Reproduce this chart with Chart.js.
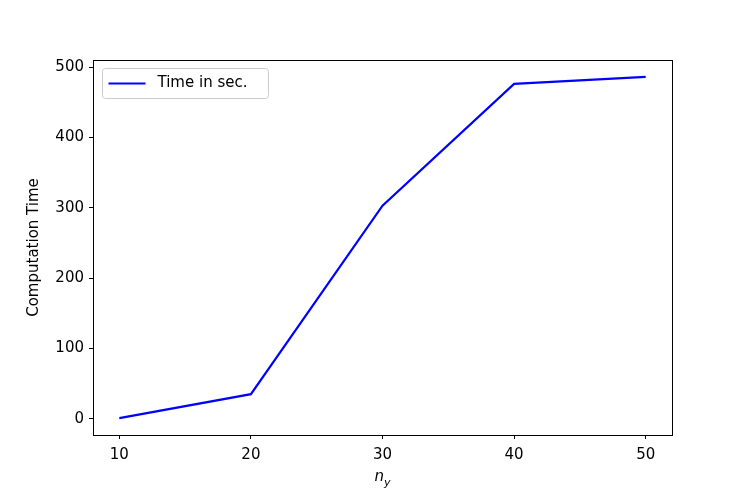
<!DOCTYPE html>
<html lang="en">
<head>
    <meta charset="UTF-8">
    <title>Computation Time</title>
    <script src="https://cdn.jsdelivr.net/npm/chart.js"></script>
    <style>
        html, body { margin: 0; padding: 0; background: #ffffff; }
        #chart { display: block; }
    </style>
</head>
<body>
    <canvas id="chart" width="747" height="498"></canvas>

    <script>
        // data
        const nyValues = [10, 20, 30, 40, 50];
        const timeSec = [1, 35, 303, 476, 486];
        const xTicks = [10, 20, 30, 40, 50];
        const yTicks = [0, 100, 200, 300, 400, 500];
        const seriesLabel = 'Time in sec.';
        const yTitle = 'Computation Time';

        const FONT = 'DejaVu Sans';

        // matplotlib-like frame around the axes
        const framePlugin = {
            id: 'frame',
            afterDraw(chart) {
                const a = chart.chartArea;
                const ctx = chart.ctx;
                ctx.save();
                ctx.strokeStyle = '#000000';
                ctx.lineWidth = 1;
                ctx.strokeRect(Math.round(a.left) + 0.5, Math.round(a.top) + 0.5,
                    Math.round(a.right - a.left), Math.round(a.bottom - a.top));
                ctx.restore();
            }
        };

        // legend box in upper left corner of the axes
        const boxLegend = {
            id: 'boxLegend',
            afterDraw(chart) {
                const a = chart.chartArea;
                const ctx = chart.ctx;
                const ds = chart.data.datasets[0];
                const x = Math.round(a.left) + 9.5, y = Math.round(a.top) + 8.5;
                const w = 166, h = 30, r = 3;
                ctx.save();
                ctx.beginPath();
                ctx.moveTo(x + r, y);
                ctx.arcTo(x + w, y, x + w, y + h, r);
                ctx.arcTo(x + w, y + h, x, y + h, r);
                ctx.arcTo(x, y + h, x, y, r);
                ctx.arcTo(x, y, x + w, y, r);
                ctx.closePath();
                ctx.fillStyle = 'rgba(255,255,255,0.8)';
                ctx.fill();
                ctx.strokeStyle = '#cccccc';
                ctx.lineWidth = 1;
                ctx.stroke();
                ctx.beginPath();
                ctx.moveTo(x + 6, y + 15);
                ctx.lineTo(x + 43, y + 15);
                ctx.strokeStyle = ds.borderColor;
                ctx.lineWidth = ds.borderWidth;
                ctx.stroke();
                ctx.fillStyle = '#000000';
                ctx.font = '15px "' + FONT + '"';
                ctx.textBaseline = 'middle';
                ctx.fillText(ds.label, x + 55, y + 15);
                ctx.restore();
            }
        };

        // x axis title n_y with subscript
        const xTitlePlugin = {
            id: 'xTitle',
            afterDraw(chart) {
                const a = chart.chartArea;
                const ctx = chart.ctx;
                const cx = (a.left + a.right) / 2;
                ctx.save();
                ctx.fillStyle = '#000000';
                ctx.textBaseline = 'alphabetic';
                ctx.font = 'italic 15px "' + FONT + '"';
                const nw = ctx.measureText('n').width;
                ctx.font = 'italic 11px "' + FONT + '"';
                const yw = ctx.measureText('y').width;
                const x0 = cx - (nw + yw) / 2;
                ctx.font = 'italic 15px "' + FONT + '"';
                ctx.fillText('n', x0, 481);
                ctx.font = 'italic 11px "' + FONT + '"';
                ctx.fillText('y', x0 + nw, 486);
                ctx.restore();
            }
        };

        const ctx = document.getElementById('chart').getContext('2d');
        new Chart(ctx, {
            type: 'line',
            data: {
                datasets: [{
                    label: seriesLabel,
                    data: nyValues.map((v, i) => ({ x: v, y: timeSec[i] })),
                    borderColor: '#0000ff',
                    backgroundColor: '#0000ff',
                    borderWidth: 2.2,
                    pointRadius: 0,
                    tension: 0,
                    fill: false
                }]
            },
            options: {
                responsive: false,
                animation: false,
                layout: { padding: { left: 0, right: 75, top: 60, bottom: 0 } },
                plugins: {
                    legend: { display: false },
                    tooltip: { enabled: false }
                },
                scales: {
                    x: {
                        type: 'linear',
                        min: 8,
                        max: 52,
                        afterBuildTicks: s => { s.ticks = xTicks.map(v => ({ value: v })); },
                        afterFit: s => { s.height = 63; },
                        border: { display: false },
                        grid: { drawOnChartArea: false, drawTicks: true, tickLength: 4, color: '#000000' },
                        ticks: { color: '#000000', padding: 7, font: { family: FONT, size: 15 } }
                    },
                    y: {
                        type: 'linear',
                        min: -23,
                        max: 510,
                        afterBuildTicks: s => { s.ticks = yTicks.map(v => ({ value: v })); },
                        afterFit: s => { s.width = 93; },
                        border: { display: false },
                        grid: { drawOnChartArea: false, drawTicks: true, tickLength: 4, color: '#000000' },
                        ticks: { color: '#000000', padding: 5, font: { family: FONT, size: 15 } },
                        title: {
                            display: true,
                            text: yTitle,
                            color: '#000000',
                            padding: { top: 25, bottom: 0 },
                            font: { family: FONT, size: 15 }
                        }
                    }
                }
            },
            plugins: [framePlugin, boxLegend, xTitlePlugin]
        });
    </script>
</body>
</html>
